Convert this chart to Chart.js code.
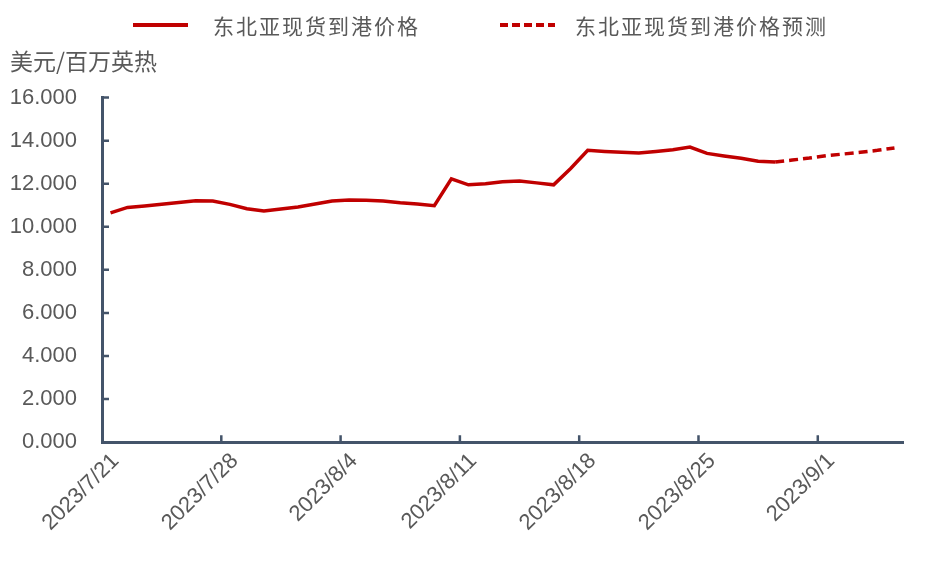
<!DOCTYPE html>
<html>
<head>
<meta charset="utf-8">
<script src="https://cdn.jsdelivr.net/npm/chart.js@4"></script>
<style>
html, body { margin: 0; padding: 0; background: #fff; }
#wrap { position: relative; width: 940px; height: 564px; }
#legend { position: absolute; left: 0; top: 0; width: 940px; height: 50px; }
.lg-item { position: absolute; top: 12px; display: flex; align-items: center; height: 26px; }
.lg-line { width: 55px; height: 4px; }
.lg-text { font: 21px 'Noto Sans CJK SC', sans-serif; color: #595959; letter-spacing: 2px; white-space: nowrap; }
</style>
</head>
<body>
<div id="wrap">
  <canvas id="myChart" width="940" height="564"></canvas>
  <div id="legend"></div>
</div>
<script>
const ctx = document.getElementById('myChart');

// Days on the date axis, 2023/7/21 - 2023/9/5
const dates = [
  '2023/7/21','2023/7/22','2023/7/23','2023/7/24','2023/7/25','2023/7/26','2023/7/27',
  '2023/7/28','2023/7/29','2023/7/30','2023/7/31','2023/8/1','2023/8/2','2023/8/3',
  '2023/8/4','2023/8/5','2023/8/6','2023/8/7','2023/8/8','2023/8/9','2023/8/10',
  '2023/8/11','2023/8/12','2023/8/13','2023/8/14','2023/8/15','2023/8/16','2023/8/17',
  '2023/8/18','2023/8/19','2023/8/20','2023/8/21','2023/8/22','2023/8/23','2023/8/24',
  '2023/8/25','2023/8/26','2023/8/27','2023/8/28','2023/8/29','2023/8/30','2023/8/31',
  '2023/9/1','2023/9/2','2023/9/3','2023/9/4','2023/9/5'
];

// 东北亚现货到港价格 (美元/百万英热)
const spotPrice = [
  10.65, 10.90, 10.97, 11.05, 11.13, 11.21, 11.20,
  11.04, 10.84, 10.73, 10.83, 10.92, 11.06, 11.20,
  11.25, 11.23, 11.20, 11.12, 11.06, 10.98, 12.23,
  11.95, 12.00, 12.09, 12.13, 12.04, 11.95, 12.71,
  13.55, 13.50, 13.46, 13.43, 13.50, 13.58, 13.70,
  13.41, 13.29, 13.18, 13.04, 13.01, null, null,
  null, null, null, null, null
];

// 东北亚现货到港价格预测
const forecastPrice = [
  null, null, null, null, null, null, null,
  null, null, null, null, null, null, null,
  null, null, null, null, null, null, null,
  null, null, null, null, null, null, null,
  null, null, null, null, null, null, null,
  null, null, null, null, 13.01, 13.10, 13.19,
  13.30, 13.38, 13.46, 13.55, 13.66
];

const seriesNames = ['东北亚现货到港价格', '东北亚现货到港价格预测'];
const unitLabel = '美元/百万英热';
const tickEvery = 7;

const red = '#C00000';
const axisColor = '#44546A';
const textColor = '#595959';
const numFont = "'Liberation Sans', Arial, sans-serif";
const cjkFont = "'Noto Sans CJK SC', sans-serif";

// tick marks pointing into the plot, like the Excel original
const insideTicks = {
  id: 'insideTicks',
  afterDraw(chart) {
    const c = chart.ctx;
    const x = chart.scales.x;
    const y = chart.scales.y;
    const half = (x.getPixelForValue(1) - x.getPixelForValue(0)) / 2;
    c.save();
    c.strokeStyle = axisColor;
    c.lineWidth = 2.5;
    c.beginPath();
    y.ticks.forEach(function(t, i) {
      const py = y.getPixelForTick(i);
      c.moveTo(x.left, py);
      c.lineTo(x.left + 7, py);
    });
    dates.forEach(function(d, i) {
      if (i > 0 && i % tickEvery === 0) {
        const px = x.getPixelForValue(i) - half;
        c.moveTo(px, y.bottom);
        c.lineTo(px, y.bottom - 7);
      }
    });
    c.stroke();
    c.restore();
  }
};

const chart = new Chart(ctx, {
  type: 'line',
  data: {
    labels: dates,
    datasets: [{
      label: seriesNames[0],
      data: spotPrice,
      borderColor: red,
      backgroundColor: red,
      borderWidth: 3.5,
      pointRadius: 0,
      tension: 0
    }, {
      label: seriesNames[1],
      data: forecastPrice,
      borderColor: red,
      backgroundColor: red,
      borderWidth: 3.5,
      borderDash: [9, 5],
      pointRadius: 0,
      tension: 0
    }]
  },
  options: {
    responsive: false,
    animation: false,
    layout: { padding: { top: 41, left: 10, right: 37, bottom: 22 } },
    plugins: {
      legend: { display: false },
      tooltip: { enabled: false },
      title: {
        display: true,
        text: unitLabel,
        align: 'start',
        color: textColor,
        font: { family: cjkFont, size: 23, weight: 'normal' },
        padding: { top: 6, bottom: 23 }
      }
    },
    scales: {
      x: {
        offset: true,
        grid: { display: false, drawTicks: false, offset: true },
        border: { display: true, color: axisColor, width: 3 },
        afterFit: function(scale) {
          scale.paddingLeft = 0;
        },
        ticks: {
          autoSkip: false,
          maxRotation: 45,
          minRotation: 45,
          padding: 6,
          labelOffset: 5,
          color: textColor,
          font: { family: numFont, size: 22 },
          callback: function(value, index) {
            return index % tickEvery === 0 ? dates[index] : '';
          }
        }
      },
      y: {
        min: 0,
        max: 16,
        grid: { display: false, drawTicks: false },
        border: { display: true, color: axisColor, width: 3 },
        afterFit: function(scale) {
          scale.width = 92;
        },
        ticks: {
          stepSize: 2,
          padding: 25,
          color: textColor,
          font: { family: numFont, size: 22 },
          callback: function(value) {
            return value.toFixed(3);
          }
        }
      }
    }
  },
  plugins: [insideTicks]
});

// legend, placed like the original
const legendLeft = [133, 500];
const legendGap = [25, 20];
const legendEl = document.getElementById('legend');
chart.data.datasets.forEach(function(ds, i) {
  const item = document.createElement('div');
  item.className = 'lg-item';
  item.style.left = legendLeft[i] + 'px';
  const line = document.createElement('span');
  line.className = 'lg-line';
  if (ds.borderDash) {
    line.style.background = 'repeating-linear-gradient(to right, ' + ds.borderColor + ' 0 8px, transparent 8px 12px)';
  } else {
    line.style.background = ds.borderColor;
  }
  line.style.marginRight = legendGap[i] + 'px';
  const text = document.createElement('span');
  text.className = 'lg-text';
  text.textContent = ds.label;
  item.appendChild(line);
  item.appendChild(text);
  legendEl.appendChild(item);
});
</script>
</body>
</html>
